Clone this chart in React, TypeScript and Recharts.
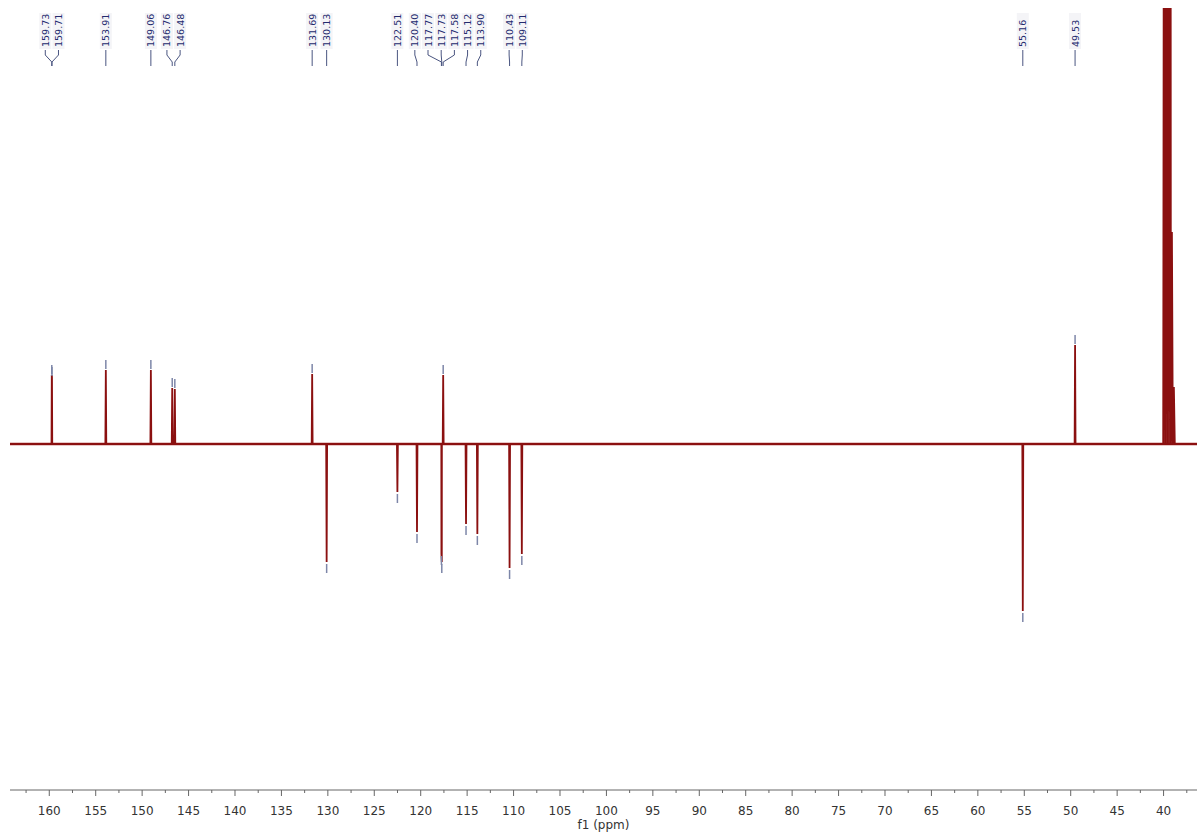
import React from 'react';
import { ComposedChart, Line, Scatter, XAxis, YAxis, ReferenceLine, Label } from 'recharts';

// picked peaks (ppm) and their signed heights (DEPT phase)
const peakShifts = [159.73, 159.71, 153.91, 149.06, 146.76, 146.48, 131.69, 130.13, 122.51, 120.40, 117.77, 117.73, 117.58, 115.12, 113.90, 110.43, 109.11, 55.16, 49.53];
const peakHeights = [69, 67, 74, 74, 56, 55, 70, -118, -48, -88, -110, -118, 69, -80, -90, -124, -110, -167, 99];

// DMSO-d6 multiplet (goes off scale)
const solventShifts = [39.94, 39.73, 39.52, 39.31, 39.10, 38.89];
const solventHeights = [900, 2000, 2400, 2000, 212, 57];

const majorTicks = [160, 155, 150, 145, 140, 135, 130, 125, 120, 115, 110, 105, 100, 95, 90, 85, 80, 75, 70, 65, 60, 55, 50, 45, 40];
const minorTicks = [162.5, 157.5, 152.5, 147.5, 142.5, 137.5, 132.5, 127.5, 122.5, 117.5, 112.5, 107.5, 102.5, 97.5, 92.5, 87.5, 82.5, 77.5, 72.5, 67.5, 62.5, 57.5, 52.5, 47.5, 42.5, 37.5];

const X_MIN = 36.4;
const X_MAX = 164.23;
const RED = '#8b1010';
const LABEL_BLUE = '#232a6e';
const MARK = '#7d86a8';

// spectrum: baseline with narrow spikes at every line
const buildSpectrum = () => {
    const pts: { x: number; y: number }[] = [{ x: X_MAX, y: 0 }, { x: X_MIN, y: 0 }];
    peakShifts.forEach((s, i) => {
        pts.push({ x: s + 0.05, y: 0 }, { x: s, y: peakHeights[i] }, { x: s - 0.05, y: 0 });
    });
    solventShifts.forEach((s, i) => {
        pts.push({ x: s + 0.1, y: 0 }, { x: s, y: solventHeights[i] }, { x: s - 0.1, y: 0 });
    });
    return pts.sort((a, b) => b.x - a.x);
};
const spectrum = buildSpectrum();

// spread labels so they don't overlap (in ppm, sorted high -> low)
const spreadLabels = (shifts: number[], gap: number) => {
    let groups = shifts.map((s, i) => ({ members: [i], center: s }));
    let changed = true;
    while (changed) {
        changed = false;
        for (let g = 0; g < groups.length - 1; g++) {
            const a = groups[g];
            const b = groups[g + 1];
            const aLast = a.center - ((a.members.length - 1) * gap) / 2;
            const bFirst = b.center + ((b.members.length - 1) * gap) / 2;
            if (aLast - bFirst < gap) {
                const members = [...a.members, ...b.members];
                const center = members.reduce((acc, m) => acc + shifts[m], 0) / members.length;
                groups.splice(g, 2, { members, center });
                changed = true;
                break;
            }
        }
    }
    const pos: number[] = new Array(shifts.length);
    groups.forEach((grp) => {
        const n = grp.members.length;
        grp.members.forEach((m, k) => {
            pos[m] = grp.center + ((n - 1) / 2 - k) * gap;
        });
    });
    return pos;
};
const labelPos = spreadLabels(peakShifts, 1.42);

const labelData = peakShifts.map((s, i) => ({ x: labelPos[i], y: 397, text: s.toFixed(2) }));
const markerData = peakShifts.map((s, i) => ({ x: s, y: peakHeights[i] }));
const connectors = peakShifts.map((s, i) => [
    { x: labelPos[i], y: 394 },
    { x: labelPos[i], y: 389 },
    { x: s, y: 382 },
    { x: s, y: 378 },
]);

const allTicks = [...majorTicks, ...minorTicks].sort((a, b) => b - a);

const AxisTick = (props: any) => {
    const { x, y, payload } = props;
    const major = majorTicks.includes(payload.value);
    return (
        <g>
            <line x1={x} x2={x} y1={y} y2={y + (major ? 6 : 3)} stroke="#666" />
            {major && (
                <text x={x} y={y + 25} textAnchor="middle" fontSize={12} fill="#333" fontFamily="DejaVu Sans">
                    {payload.value}
                </text>
            )}
        </g>
    );
};

const AxisTitle = (props: any) => {
    const { viewBox } = props;
    return (
        <text x={viewBox.x + viewBox.width / 2} y={viewBox.y + 39} textAnchor="middle" fontSize={12} fill="#333" fontFamily="DejaVu Sans">
            f1 (ppm)
        </text>
    );
};

const PeakLabel = (props: any) => {
    const { cx, cy, payload } = props;
    return (
        <g>
            <rect x={cx - 6} y={cy - 34} width={12} height={36} fill="#f4f4f7" />
            <text
                x={cx}
                y={cy}
                transform={`rotate(-90 ${cx} ${cy})`}
                textAnchor="start"
                dominantBaseline="central"
                fontSize={9.5}
                fill={LABEL_BLUE}
                fontFamily="DejaVu Sans"
            >
                {payload.text}
            </text>
        </g>
    );
};

const PeakMarker = (props: any) => {
    const { cx, cy, payload } = props;
    const up = payload.y > 0;
    return <line x1={cx} x2={cx} y1={up ? cy - 10 : cy + 2} y2={up ? cy - 1 : cy + 11} stroke={MARK} strokeWidth={1.5} />;
};

export default function App() {
    return (
        <div style={{ position: 'absolute', left: 0, top: 0, width: 1202, height: 835, background: '#fff' }}>
            <ComposedChart width={1202} height={835} margin={{ top: 8, right: 5, bottom: 0, left: 10 }}>
                <XAxis
                    type="number"
                    dataKey="x"
                    domain={[X_MIN, X_MAX]}
                    reversed
                    allowDataOverflow
                    ticks={allTicks}
                    interval={0}
                    tick={<AxisTick />}
                    tickLine={false}
                    tickSize={0}
                    tickMargin={0}
                    axisLine={{ stroke: '#666' }}
                    height={45}
                >
                    <Label content={AxisTitle} />
                </XAxis>
                <YAxis type="number" dataKey="y" domain={[-346, 436]} allowDataOverflow hide />
                <ReferenceLine y={0} stroke="#a32222" strokeWidth={2.5} ifOverflow="hidden" />
                <Line
                    data={spectrum}
                    dataKey="y"
                    type="linear"
                    stroke={RED}
                    strokeWidth={1.8}
                    dot={false}
                    activeDot={false}
                    isAnimationActive={false}
                />
                {connectors.map((c, i) => (
                    <Line
                        key={`conn-${i}`}
                        data={c}
                        dataKey="y"
                        type="linear"
                        stroke="#4a5580"
                        strokeWidth={1}
                        dot={false}
                        activeDot={false}
                        isAnimationActive={false}
                    />
                ))}
                <Scatter data={markerData} shape={<PeakMarker />} isAnimationActive={false} />
                <Scatter data={labelData} shape={<PeakLabel />} isAnimationActive={false} />
            </ComposedChart>
        </div>
    );
}
